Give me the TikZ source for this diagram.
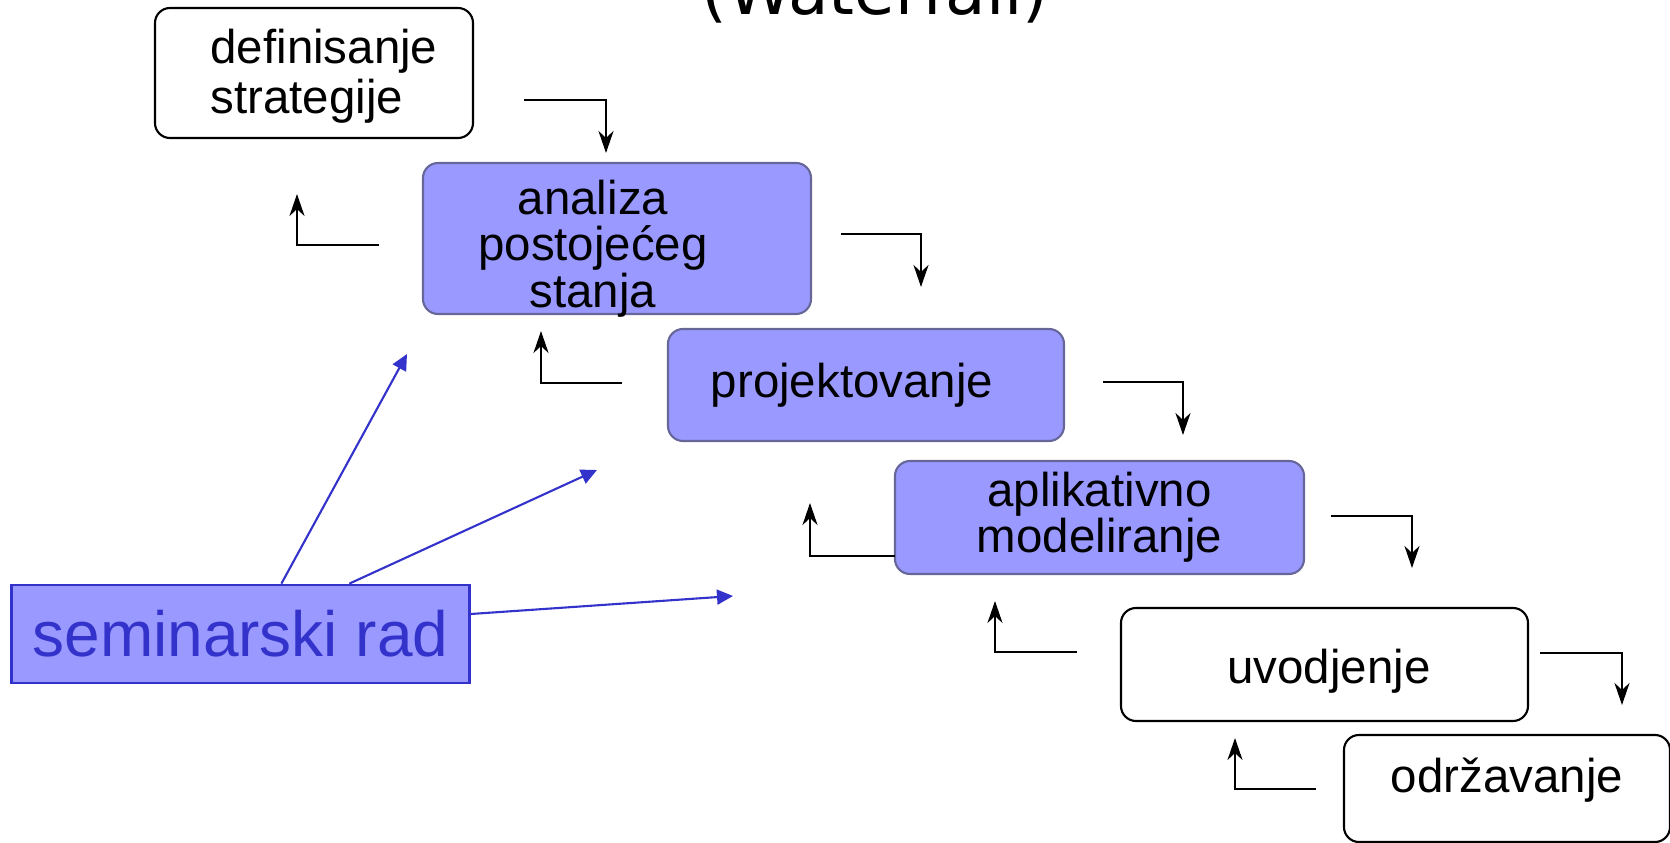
\documentclass[tikz,border=0pt]{standalone}
\usepackage{fontspec}
\setmainfont{Liberation Sans}
\newfontfamily\headfont{DejaVu Sans}
\usetikzlibrary{positioning,arrows.meta}
\definecolor{boxfill}{HTML}{9999FF}
\definecolor{boxedge}{HTML}{666699}
\definecolor{semblue}{HTML}{3333CC}
\newcommand{\phasefont}{\fontsize{13.5}{13.2}\selectfont}
\begin{document}
\begin{tikzpicture}
	\tikzstyle{phase}=[rectangle, rounded corners=1.5mm, line width=0.6pt, draw=black, fill=white, inner sep=0pt, outer sep=0pt]
	\tikzstyle{current}=[phase, draw=boxedge, fill=boxfill]
	\tikzstyle{connect}=[-{Stealth[length=2.2mm, width=1.5mm, inset=0.7mm]}, line width=0.75pt]
	\tikzstyle{pointer}=[-{Triangle[length=1.6mm, width=1.5mm]}, draw=semblue, line width=0.6pt]
	\useasboundingbox (0,0) rectangle (16.70,-8.43);
	\clip (0,0) rectangle (16.70,-8.43);
	\node[font=\headfont\fontsize{18.8}{20}\selectfont, anchor=base] (title) at (8.75,-0.14) {(Waterfall)};
	\node[phase, minimum width=3.18cm, minimum height=1.30cm] (def) at (3.14,-0.73) [label={[align=left, font=\fontsize{13.5}{14.2}\selectfont, xshift=1mm, yshift=-0.3mm]center:definisanje\\strategije}] { };
	\node[current, minimum width=3.88cm, minimum height=1.51cm] (ana) [below right=0.25cm and -0.50cm of def, label={[align=center, font=\phasefont, xshift=-2.4mm, yshift=-1mm]center:analiza\\postojećeg\\stanja}] { };
		\node[current, minimum width=3.96cm, minimum height=1.12cm] (proj) [below right=0.15cm and -1.43cm of ana, label={[font=\phasefont, xshift=-1.4mm]center:projektovanje}] { };
		\node[current, minimum width=4.09cm, minimum height=1.13cm] (apl) [below right=0.20cm and -1.69cm of proj, label={[align=center, font=\phasefont]center:aplikativno\\modeliranje}] { };
	\node[phase, minimum width=4.07cm, minimum height=1.13cm] (uvo) [below right=0.34cm and -1.83cm of apl, label={[font=\phasefont, xshift=0.45mm, yshift=-0.65mm]center:uvodjenje}] { };
	\node[phase, minimum width=3.26cm, minimum height=1.07cm] (odr) [below right=0.14cm and -1.84cm of uvo, label={[font=\phasefont, yshift=0.85mm]center:održavanje}] { };
	\node[rectangle, draw=semblue, fill=boxfill, line width=0.8pt, minimum width=4.58cm, minimum height=0.98cm, anchor=west] (sem) at (0.10,-6.34) [label={[text=semblue, font=\fontsize{18.2}{20}\selectfont]center:seminarski rad}] { };
	\coordinate (next1) at (5.24,-1.00);
	\coordinate (next1tip) at (6.06,-1.53);
	\coordinate (next2) at (8.41,-2.34);
	\coordinate (next2tip) at (9.21,-2.87);
	\coordinate (next3) at (11.03,-3.82);
	\coordinate (next3tip) at (11.83,-4.35);
	\coordinate (next4) at (13.31,-5.16);
	\coordinate (next4tip) at (14.12,-5.68);
	\coordinate (next5) at (15.40,-6.53);
	\coordinate (next5tip) at (16.22,-7.05);
	\coordinate (back1) at (3.79,-2.45);
	\coordinate (back1tip) at (2.97,-1.94);
	\coordinate (back2) at (6.22,-3.83);
	\coordinate (back2tip) at (5.41,-3.31);
	\coordinate (back3) at (8.95,-5.56);
	\coordinate (back3tip) at (8.10,-5.03);
	\coordinate (back4) at (10.77,-6.52);
	\coordinate (back4tip) at (9.95,-6.01);
	\coordinate (back5) at (13.16,-7.89);
	\coordinate (back5tip) at (12.35,-7.38);
	\coordinate (tip1) at (4.07,-3.54);
	\coordinate (tip2) at (5.97,-4.70);
	\coordinate (tip3) at (7.33,-5.96);
	\draw[connect] (next1) -| (next1tip);
	\draw[connect] (next2) -| (next2tip);
	\draw[connect] (next3) -| (next3tip);
	\draw[connect] (next4) -| (next4tip);
	\draw[connect] (next5) -| (next5tip);
	\draw[connect] (back1) -| (back1tip);
	\draw[connect] (back2) -| (back2tip);
	\draw[connect] (back3) -| (back3tip);
	\draw[connect] (back4) -| (back4tip);
	\draw[connect] (back5) -| (back5tip);
	\draw[pointer] ([xshift=4.1mm]sem.north) -- (tip1);
	\draw[pointer] ([xshift=10.9mm]sem.north) -- (tip2);
	\draw[pointer] ([yshift=2mm]sem.east) -- (tip3);
\end{tikzpicture}
\end{document}
